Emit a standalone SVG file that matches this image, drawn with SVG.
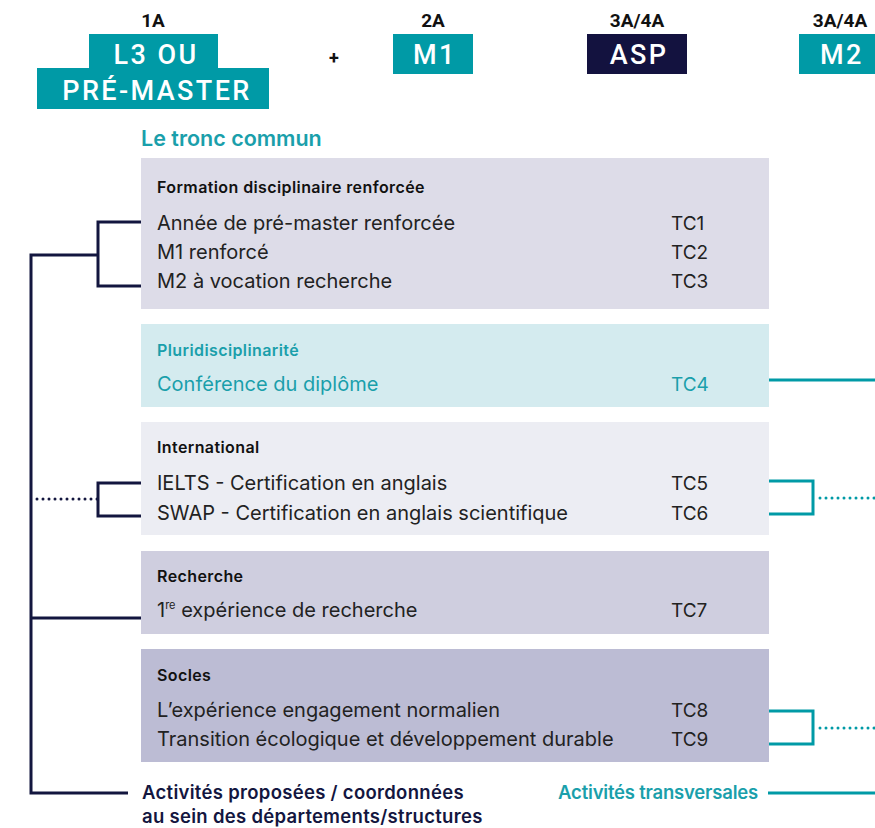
<svg xmlns="http://www.w3.org/2000/svg" width="875" height="828" viewBox="0 0 875 828">
<style>
.yr{font-family:Roboto,"Liberation Sans",sans-serif;font-size:19px;font-weight:700;fill:#111;text-anchor:middle}
.bt{font-family:Roboto,"Liberation Sans",sans-serif;font-size:27px;font-weight:500;fill:#fff;text-anchor:middle;letter-spacing:2.4px}
.ttl{font-family:Inter,"Liberation Sans",sans-serif;font-size:16px;font-weight:600;fill:#111;letter-spacing:0.4px}
.it{font-family:Inter,"Liberation Sans",sans-serif;font-size:20px;fill:#222}
.tc{font-family:Inter,"Liberation Sans",sans-serif;font-size:19px;fill:#222}
.teal{fill:#1a9fab}
.nv{fill:none;stroke:#13163f;stroke-width:3}
.tl{fill:none;stroke:#009aa6;stroke-width:3}
.lbl{font-family:Inter,"Liberation Sans",sans-serif;font-size:18.5px;font-weight:600;letter-spacing:0.3px}
</style>
<rect width="875" height="828" fill="#fff"/>
<g id="header">
<text class="yr" x="153" y="27">1A</text>
<rect x="89" y="34" width="129" height="35" fill="#009aa6"/>
<rect x="37" y="68" width="232" height="41" fill="#009aa6"/>
<text class="bt" x="156" y="64">L3 OU</text>
<text class="bt" x="157" y="100">PRÉ-MASTER</text>
<text class="yr" x="334" y="64" style="font-size:18px">+</text>
<text class="yr" x="433" y="27">2A</text>
<rect x="393" y="34" width="80" height="40" fill="#009aa6"/>
<text class="bt" x="435" y="64">M1</text>
<text class="yr" x="637" y="27">3A/4A</text>
<rect x="587" y="34" width="100" height="40" fill="#13123f"/>
<text class="bt" x="639" y="64">ASP</text>
<text class="yr" x="840" y="27">3A/4A</text>
<rect x="799" y="34" width="90" height="40" fill="#009aa6"/>
<text class="bt" x="842" y="64">M2</text>
</g>
<text x="141" y="146" class="lbl teal" style="font-size:21.5px;letter-spacing:0">Le tronc commun</text>
<g id="formation">
<rect x="141" y="158" width="628" height="151" fill="#dddce8"/>
<text class="ttl" x="157" y="193">Formation disciplinaire renforcée</text>
<text class="it" x="157" y="230">Année de pré-master renforcée</text>
<text class="it" x="157" y="259">M1 renforcé</text>
<text class="it" x="157" y="288">M2 à vocation recherche</text>
<text class="tc" x="671" y="230">TC1</text>
<text class="tc" x="671" y="259">TC2</text>
<text class="tc" x="671" y="288">TC3</text>
</g>
<g id="pluri">
<rect x="141" y="324" width="628" height="83" fill="#d4ebef"/>
<text class="ttl teal" x="157" y="356">Pluridisciplinarité</text>
<text class="it teal" x="157" y="391">Conférence du diplôme</text>
<text class="tc teal" x="671" y="391">TC4</text>
</g>
<g id="international">
<rect x="141" y="422" width="628" height="113" fill="#ecedf3"/>
<text class="ttl" x="157" y="453">International</text>
<text class="it" x="157" y="490">IELTS - Certification en anglais</text>
<text class="it" x="157" y="520">SWAP - Certification en anglais scientifique</text>
<text class="tc" x="671" y="490">TC5</text>
<text class="tc" x="671" y="520">TC6</text>
</g>
<g id="recherche">
<rect x="141" y="551" width="628" height="83" fill="#cfcedf"/>
<text class="ttl" x="157" y="582">Recherche</text>
<text class="it" x="157" y="617">1<tspan font-size="11" dy="-8">re</tspan><tspan dy="8"> expérience de recherche</tspan></text>
<text class="tc" x="671" y="617">TC7</text>
</g>
<g id="socles">
<rect x="141" y="649" width="628" height="113" fill="#bcbcd4"/>
<text class="ttl" x="157" y="681">Socles</text>
<text class="it" x="157" y="717">L’expérience engagement normalien</text>
<text class="it" x="157" y="746">Transition écologique et développement durable</text>
<text class="tc" x="671" y="717">TC8</text>
<text class="tc" x="671" y="746">TC9</text>
</g>
<g id="connectors">
<polyline class="nv" points="141,222 98,222 98,286 141,286"/>
<polyline class="nv" points="98,255 31,255 31,793 128,793"/>
<polyline class="nv" points="141,483 98,483 98,516 141,516"/>
<line x1="37" y1="499" x2="98" y2="499" stroke="#13163f" stroke-width="3" stroke-dasharray="0 6" stroke-linecap="round"/>
<line x1="31" y1="618" x2="141" y2="618" class="nv"/>
<line x1="769" y1="380" x2="875" y2="380" class="tl"/>
<polyline class="tl" points="769,481 813,481 813,514 769,514"/>
<line x1="820" y1="498" x2="875" y2="498" stroke="#009aa6" stroke-width="3" stroke-dasharray="0 6" stroke-linecap="round"/>
<polyline class="tl" points="769,711 813,711 813,744 769,744"/>
<line x1="820" y1="728" x2="875" y2="728" stroke="#009aa6" stroke-width="3" stroke-dasharray="0 6" stroke-linecap="round"/>
<line x1="768" y1="793" x2="875" y2="793" class="tl"/>
</g>
<g id="legend">
<text class="lbl" x="142" y="799" fill="#13163f">Activités proposées / coordonnées</text>
<text class="lbl" x="142" y="823" fill="#13163f">au sein des départements/structures</text>
<text class="lbl teal" x="758" y="799" text-anchor="end" style="letter-spacing:-0.2px">Activités transversales</text>
</g>
</svg>
